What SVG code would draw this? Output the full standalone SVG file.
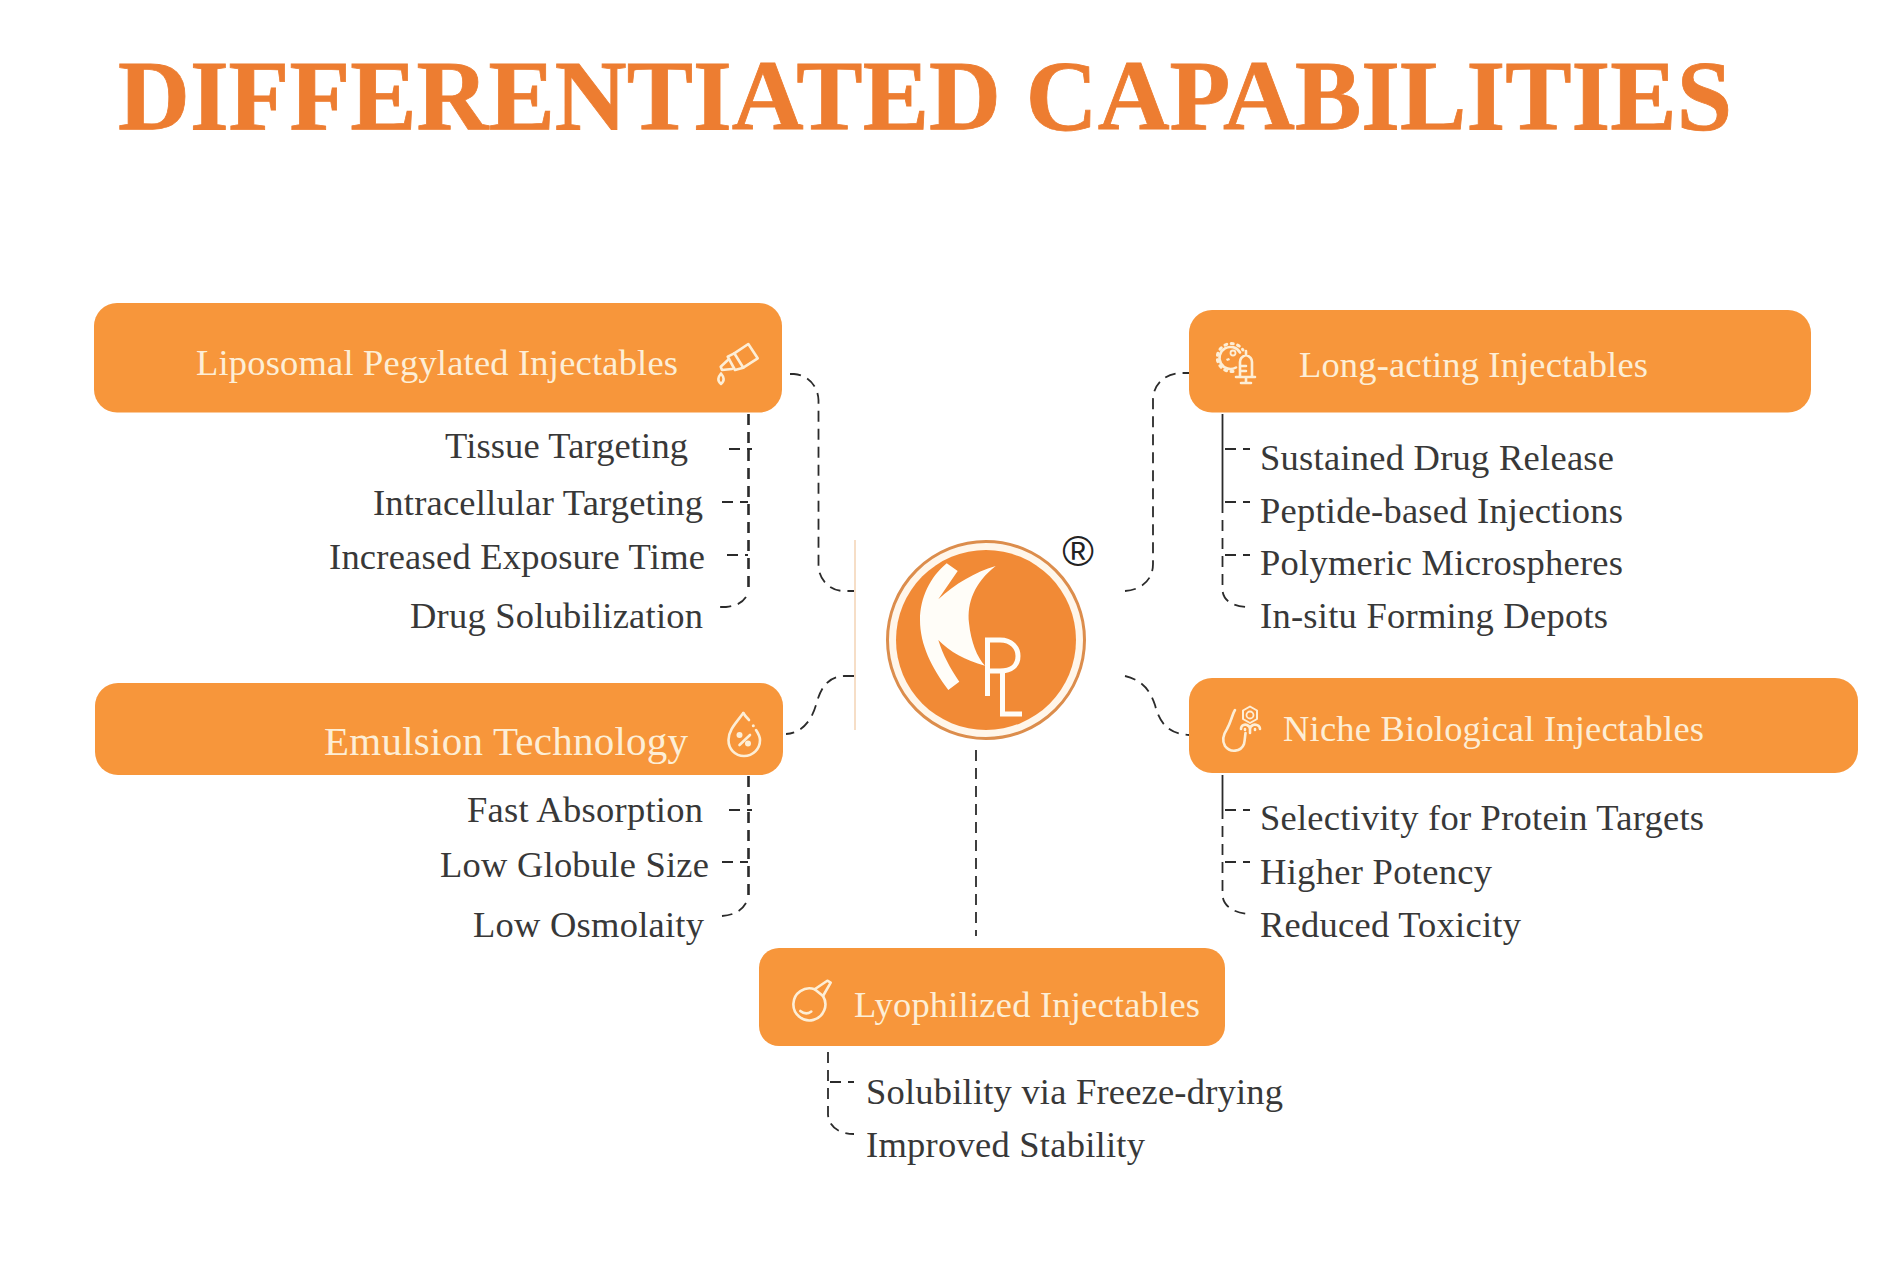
<svg xmlns="http://www.w3.org/2000/svg" width="1884" height="1274" viewBox="0 0 1884 1274">
<style>
.box{fill:#f7963b}
.hd{font-family:"Liberation Serif",serif;fill:#fdeed6;font-size:36.500px}
.it{font-family:"Liberation Serif",serif;fill:#383838;font-size:36.500px}
.d{fill:none;stroke:#2b2b2b;stroke-width:1.8;stroke-dasharray:11 7}
.t{stroke-width:2.600}
.s{fill:none;stroke:#2b2b2b;stroke-width:1.8}
.i{fill:none;stroke:#fdeed6;stroke-width:2.600;stroke-linejoin:round;stroke-linecap:round}
.f{fill:#fdeed6}
.w{fill:#fffdf8}
</style>
<rect width="1884" height="1274" fill="#fff"/>
<text id="title" x="118" y="129" textLength="1614" lengthAdjust="spacingAndGlyphs" font-family="Liberation Serif, serif" font-weight="700" font-size="99" fill="#ed7d31" stroke="#ed7d31" stroke-width="0.8">DIFFERENTIATED CAPABILITIES</text>

<g id="connectors">
<path d="M855 540V730" fill="none" stroke="#f3d3b4" stroke-width="1.500"/>
<path class="d" d="M790 374H794C808 375 818 386 818.500 400V566C819 580 830 591 844 591H854"/>
<path class="d" d="M854 676H844C826 677 820 690 816 705C811 722 801 733 786 734"/>
<path class="d" d="M1125 591C1141 590 1153 580 1153 564V400C1153 385 1164 374 1180 373H1189"/>
<path class="d" d="M1125 676C1142 680 1150 690 1155 705C1160 725 1170 734 1189 735"/>
<path class="d" d="M976 750V936"/>
<path class="d t" d="M748.500 414V590"/>
<path class="d" d="M746 597C742 603 736 606 726 607H716" stroke-dasharray="9 6"/>
<path class="d" d="M729 449H752M722 502H748M727 555H748"/>
<path class="d t" d="M748.500 776V895"/>
<path class="d" d="M746 903C742 910 735 915 722 916" stroke-dasharray="10 5"/>
<path class="d" d="M729 810H752M722 862H748"/>
<path class="s" d="M1222.500 414V502"/>
<path class="d" d="M1222.500 502V590C1223 600 1232 607 1250 607"/>
<path class="d" d="M1225 449H1250M1225 502H1250M1225 555H1250"/>
<path class="s" d="M1222.500 775V808"/>
<path class="d" d="M1222.500 808V895C1223 905 1232 913 1250 914"/>
<path class="d" d="M1225 810H1250M1225 862H1250"/>
<path class="d" d="M828 1052V1115C829 1126 838 1134 854 1134"/>
<path class="d" d="M830 1082H854"/>
</g>

<g id="node-logo">
<circle cx="986" cy="640" r="98.500" fill="#fff6ea" stroke="#dc8d4c" stroke-width="3"/>
<circle cx="986" cy="640" r="90" fill="#f18a36"/>
<path class="w" d="M946.700 563.300L957.700 571L938.300 599.300C955 584 975 572 995.700 566C974 583 967 603 969 623C971 642 977 657 985 665.700C965 660 950 652 938.300 640C943 655 950 668 959.300 681.700L948.300 690C932 668 920 645 920 620C920 598 930 577 946.700 563.300Z"/>
<path d="M987.500 696V640H1000C1012 640 1018 648 1018 656C1018 665 1012 671 1000 671H988M1002.500 672V714H1022" fill="none" stroke="#fffdf8" stroke-width="5"/>
<text x="1078" y="566" text-anchor="middle" font-family="Liberation Sans, sans-serif" font-size="43" fill="#222">®</text>
</g>

<g id="node-liposomal">
<rect class="box" x="94" y="303" width="688" height="109.500" rx="23"/>
<text class="hd" x="196" y="374.500" textLength="482">Liposomal Pegylated Injectables</text>
<path class="i" d="M748.300 344L757.700 358.300L743.300 367.700L734.300 353.300Z"/>
<path class="i" d="M734.300 353.300L727.700 356.700L735 370L743.300 367.700"/>
<path class="i" d="M729 359L720.700 366.700L722 370L732 369"/>
<path class="i" d="M721 373.500C718 377 717 381 721 384C725 381 724 377 721 373.500Z"/>
</g>
<g id="items-liposomal">
<text class="it" x="445" y="458" textLength="243">Tissue Targeting</text>
<text class="it" x="373" y="514.500" textLength="330">Intracellular Targeting</text>
<text class="it" x="329" y="568.500" textLength="376">Increased Exposure Time</text>
<text class="it" x="410" y="628" textLength="293">Drug Solubilization</text>
</g>

<g id="node-longacting">
<rect class="box" x="1189" y="310" width="622" height="102.500" rx="23"/>
<path class="i" d="M1236 367.500A11 11 0 1 1 1240 352.500"/>
<path class="i" stroke-dasharray="2 4.500" style="stroke-width:3" d="M1233 371.500A14 14 0 1 1 1243 350"/>
<circle class="i" cx="1233" cy="353" r="2.500" style="stroke-width:1.800"/>
<path class="f" d="M1226 359l3-1 1 2-3 1z"/>
<path class="i" d="M1246 351V355M1240 377V362C1240 358 1243 356 1246 355C1249 356 1252 358 1252 362V377M1236 377H1255M1246 377V383M1241 383H1251M1241 366H1246M1241 371H1246"/>
<text class="hd" x="1299" y="376.500" textLength="349">Long-acting Injectables</text>
</g>
<g id="items-longacting">
<text class="it" x="1260" y="470" textLength="354">Sustained Drug Release</text>
<text class="it" x="1260" y="523" textLength="363">Peptide-based Injections</text>
<text class="it" x="1260" y="575" textLength="363">Polymeric Microspheres</text>
<text class="it" x="1260" y="628" textLength="348">In-situ Forming Depots</text>
</g>

<g id="node-emulsion">
<rect class="box" x="95" y="683" width="688" height="92" rx="23"/>
<path class="i" d="M743.300 713C736 723 728.500 730 728.500 740C728.500 749 735 756 744 756C753 756 760 749 760 740C760 736 758 733 756 730"/>
<path class="i" d="M743.300 713C745 716 747 718 749 720"/>
<circle class="f" cx="739.500" cy="735" r="3"/><circle class="f" cx="748" cy="743.500" r="3"/>
<path class="i" d="M750 735L739.500 745"/><circle class="f" cx="753.300" cy="725.700" r="1.500"/>
<text class="hd" x="324" y="755" textLength="364" style="font-size:41px">Emulsion Technology</text>
</g>
<g id="items-emulsion">
<text class="it" x="467" y="822" textLength="236">Fast Absorption</text>
<text class="it" x="440" y="877" textLength="269">Low Globule Size</text>
<text class="it" x="473" y="937" textLength="231">Low Osmolaity</text>
</g>

<g id="node-niche">
<rect class="box" x="1189" y="678" width="669" height="95" rx="23"/>
<path class="i" d="M1235 710C1232 715 1231 722 1227 729C1223 735 1222 741 1225 746C1230 753 1241 752 1244 744C1245 740 1245 736 1245.500 733"/>
<path class="i" d="M1250 706.500L1257 710.500V719L1250 723L1243 719V710.500Z" style="stroke-width:2"/>
<circle class="i" cx="1250" cy="715" r="3.500" style="stroke-width:1.800"/>
<path class="i" d="M1241 729C1241 725 1245 724 1247 725C1249 726 1250 727 1250 729C1250 727 1251 726 1253 725C1255 724 1260 725 1260 729M1245 730V729M1250 729V733M1255 730V729"/>
<text class="hd" x="1283" y="740.500" textLength="421">Niche Biological Injectables</text>
</g>
<g id="items-niche">
<text class="it" x="1260" y="830" textLength="444">Selectivity for Protein Targets</text>
<text class="it" x="1260" y="883.500" textLength="232">Higher Potency</text>
<text class="it" x="1260" y="936.500" textLength="261">Reduced Toxicity</text>
</g>

<g id="node-lyophilized">
<rect class="box" x="759" y="948" width="466" height="98" rx="20"/>
<path class="i" d="M816.700 989.300A16 16 0 1 0 825 996" transform="translate(-2 0)"/>
<path class="i" d="M814.700 989.300L827.300 980.700L830.700 982.700L823 996Z"/>
<path class="i" d="M800.300 1011C804 1014 808 1014 811.300 1011.500"/>
<text class="hd" x="854" y="1016.500" textLength="346">Lyophilized Injectables</text>
</g>
<g id="items-lyophilized">
<text class="it" x="866" y="1103.500" textLength="417">Solubility via Freeze-drying</text>
<text class="it" x="866" y="1156.500" textLength="279">Improved Stability</text>
</g>
</svg>
